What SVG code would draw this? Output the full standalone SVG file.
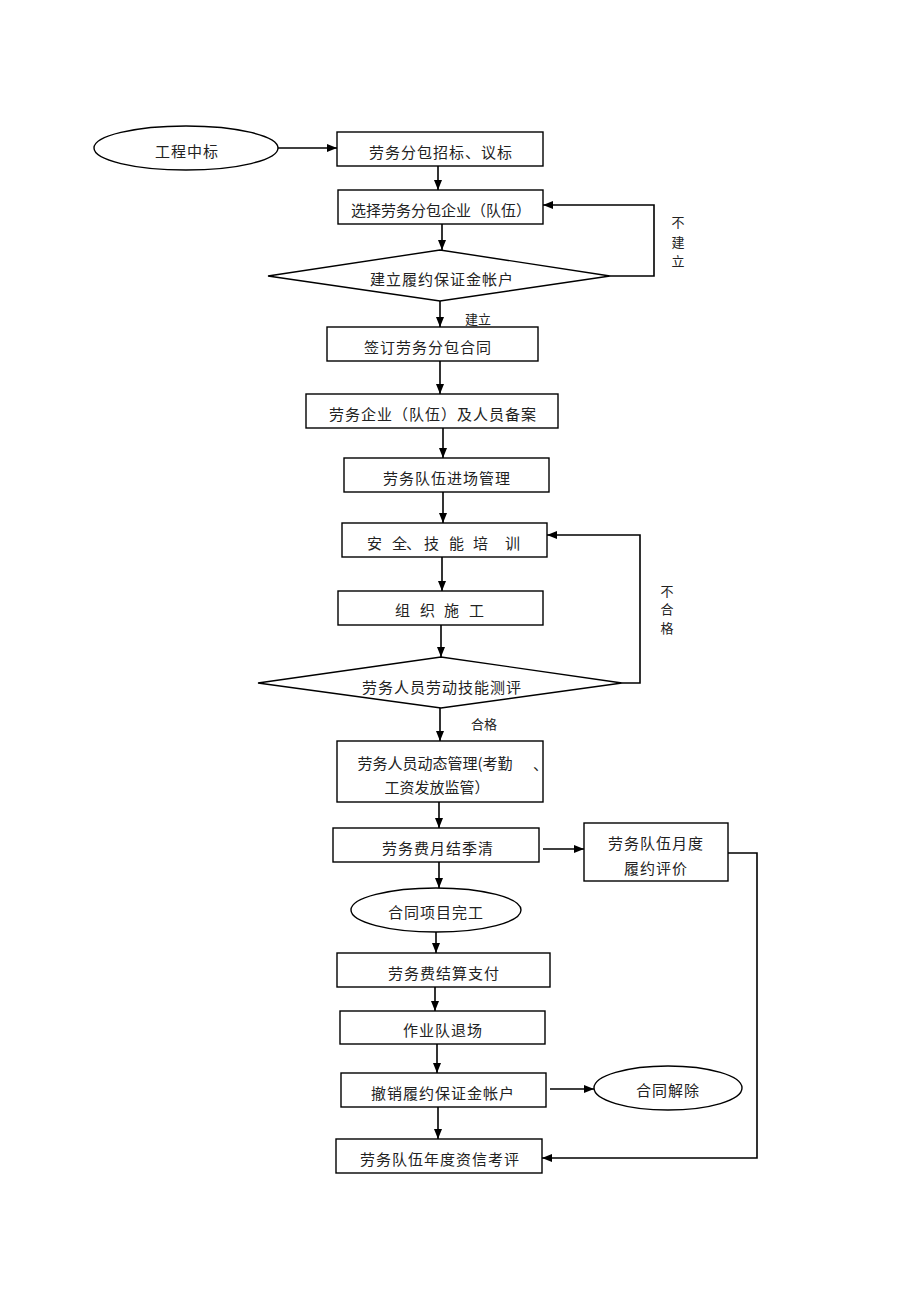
<svg xmlns="http://www.w3.org/2000/svg" width="920" height="1302" viewBox="0 0 920 1302">
<defs>
<marker id="ah" markerUnits="userSpaceOnUse" markerWidth="10" markerHeight="8" refX="10" refY="4" orient="auto">
<path d="M0,0 L10,4 L0,8 z" fill="#000"/>
</marker>
</defs>
<style>
.n{fill:#fff;stroke:#000;stroke-width:1.4}
.t{font-family:"Noto Sans CJK SC","Liberation Serif",sans-serif;font-size:15px;fill:#222;text-anchor:middle;dominant-baseline:central;letter-spacing:1px}
.s{font-family:"Noto Sans CJK SC","Liberation Serif",sans-serif;font-size:13px;fill:#222;text-anchor:middle;dominant-baseline:central}
.c{fill:none;stroke:#000;stroke-width:1.6}
.a{marker-end:url(#ah)}
</style>
<rect width="920" height="1302" fill="#fff"/>
<g id="connectors">
<line class="c a" x1="278" y1="148" x2="337" y2="148"/>
<line class="c a" x1="438" y1="166" x2="438" y2="190"/>
<line class="c a" x1="442" y1="224" x2="442" y2="250"/>
<polyline class="c a" points="610,276 654,276 654,205 543,205"/>
<line class="c a" x1="440" y1="301" x2="440" y2="327"/>
<line class="c a" x1="440" y1="361" x2="440" y2="394"/>
<line class="c a" x1="443" y1="428" x2="443" y2="458"/>
<line class="c a" x1="443" y1="492" x2="443" y2="523"/>
<line class="c a" x1="442" y1="557" x2="442" y2="591"/>
<line class="c a" x1="441" y1="625" x2="441" y2="657"/>
<polyline class="c a" points="622,683 640,683 640,535 547,535"/>
<line class="c a" x1="440" y1="708" x2="440" y2="741"/>
<line class="c a" x1="439" y1="802" x2="439" y2="828"/>
<line class="c a" x1="439" y1="862" x2="439" y2="888"/>
<line class="c a" x1="543" y1="849" x2="584" y2="849"/>
<polyline class="c a" points="728,853 757,853 757,1158 542,1158"/>
<line class="c a" x1="436" y1="932" x2="436" y2="953"/>
<line class="c a" x1="435" y1="987" x2="435" y2="1011"/>
<line class="c a" x1="437" y1="1044" x2="437" y2="1073"/>
<line class="c a" x1="438" y1="1107" x2="438" y2="1139"/>
<line class="c a" x1="550" y1="1089" x2="594" y2="1089"/>
<text class="s" x="678" y="221">不</text>
<text class="s" x="678" y="241">建</text>
<text class="s" x="678" y="260">立</text>
<text class="s" x="478" y="318">建立</text>
<text class="s" x="667" y="590">不</text>
<text class="s" x="667" y="608">合</text>
<text class="s" x="667" y="627">格</text>
<text class="s" x="484" y="723">合格</text>
</g>
<g id="n1"><ellipse class="n" cx="186" cy="148" rx="92" ry="22"/><text class="t" x="187" y="150">工程中标</text></g>
<g id="n2"><rect class="n" x="337" y="132" width="206" height="34"/><text class="t" x="441" y="151">劳务分包招标、议标</text></g>
<g id="n3"><rect class="n" x="338" y="190" width="205" height="34"/><text class="t" x="441" y="209" style="letter-spacing:0">选择劳务分包企业（队伍）</text></g>
<g id="n4"><polygon class="n" points="268,276 440,250 610,276 440,301"/><text class="t" x="442" y="278">建立履约保证金帐户</text></g>
<g id="n5"><rect class="n" x="327" y="327" width="211" height="34"/><text class="t" x="428" y="346">签订劳务分包合同</text></g>
<g id="n6"><rect class="n" x="306" y="394" width="252" height="34"/><text class="t" x="433" y="413">劳务企业（队伍）及人员备案</text></g>
<g id="n7"><rect class="n" x="344" y="458" width="205" height="34"/><text class="t" x="447" y="477">劳务队伍进场管理</text></g>
<g id="n8"><rect class="n" x="342" y="523" width="205" height="34"/>
<text class="t" x="375" y="542">安</text><text class="t" x="400" y="542">全</text><text class="t" x="414" y="542">、</text><text class="t" x="432" y="542">技</text><text class="t" x="457" y="542">能</text><text class="t" x="481" y="542">培</text><text class="t" x="513" y="542">训</text></g>
<g id="n9"><rect class="n" x="338" y="591" width="205" height="34"/>
<text class="t" x="403" y="609">组</text><text class="t" x="428" y="609">织</text><text class="t" x="452" y="609">施</text><text class="t" x="477" y="609">工</text></g>
<g id="n10"><polygon class="n" points="258,683 441,657 622,683 441,708"/><text class="t" x="442" y="686">劳务人员劳动技能测评</text></g>
<g id="n11"><rect class="n" x="337" y="741" width="206" height="61"/>
<text class="t" x="435" y="762" style="letter-spacing:0">劳务人员动态管理(考勤</text><text class="t" x="541" y="763">、</text>
<text class="t" x="437" y="786" style="letter-spacing:0">工资发放监管）</text></g>
<g id="n12"><rect class="n" x="333" y="828" width="206" height="34"/><text class="t" x="438" y="847">劳务费月结季清</text></g>
<g id="n13"><rect class="n" x="584" y="823" width="144" height="58"/><text class="t" x="656" y="842">劳务队伍月度</text><text class="t" x="656" y="867">履约评价</text></g>
<g id="n14"><ellipse class="n" cx="436" cy="910" rx="85" ry="22"/><text class="t" x="436" y="911">合同项目完工</text></g>
<g id="n15"><rect class="n" x="337" y="953" width="213" height="34"/><text class="t" x="444" y="972">劳务费结算支付</text></g>
<g id="n16"><rect class="n" x="340" y="1011" width="205" height="33"/><text class="t" x="443" y="1029">作业队退场</text></g>
<g id="n17"><rect class="n" x="341" y="1073" width="205" height="34"/><text class="t" x="443" y="1092">撤销履约保证金帐户</text></g>
<g id="n18"><ellipse class="n" cx="668" cy="1088" rx="74" ry="22"/><text class="t" x="668" y="1089">合同解除</text></g>
<g id="n19"><rect class="n" x="336" y="1139" width="206" height="34"/><text class="t" x="440" y="1158">劳务队伍年度资信考评</text></g>
</svg>
